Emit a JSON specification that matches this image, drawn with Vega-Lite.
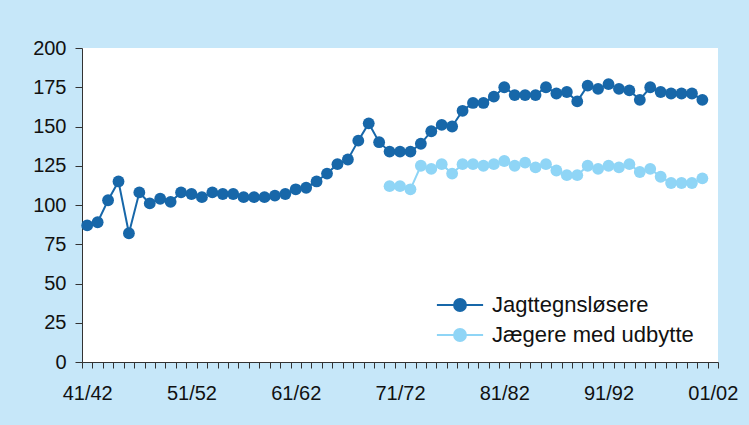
{
  "$schema": "https://vega.github.io/schema/vega-lite/v6.json",
  "width": 636,
  "height": 314,
  "autosize": {"type": "none"},
  "padding": {"left": 82, "top": 48, "right": 31, "bottom": 63},
  "background": "#c6e7f9",
  "config": {
    "view": {"fill": "white", "stroke": null},
    "font": "Liberation Sans",
    "axis": {"labelFont": "Liberation Sans", "labelFontSize": 20, "labelColor": "#111", "domainColor": "#333", "tickColor": "#333", "domainWidth": 1, "tickWidth": 1, "grid": false, "title": null}
  },
  "data": {
    "values": [
      {"season": "41/42", "Jagttegnsløsere": 87},
      {"season": "42/43", "Jagttegnsløsere": 89},
      {"season": "43/44", "Jagttegnsløsere": 103},
      {"season": "44/45", "Jagttegnsløsere": 115},
      {"season": "45/46", "Jagttegnsløsere": 82},
      {"season": "46/47", "Jagttegnsløsere": 108},
      {"season": "47/48", "Jagttegnsløsere": 101},
      {"season": "48/49", "Jagttegnsløsere": 104},
      {"season": "49/50", "Jagttegnsløsere": 102},
      {"season": "50/51", "Jagttegnsløsere": 108},
      {"season": "51/52", "Jagttegnsløsere": 107},
      {"season": "52/53", "Jagttegnsløsere": 105},
      {"season": "53/54", "Jagttegnsløsere": 108},
      {"season": "54/55", "Jagttegnsløsere": 107},
      {"season": "55/56", "Jagttegnsløsere": 107},
      {"season": "56/57", "Jagttegnsløsere": 105},
      {"season": "57/58", "Jagttegnsløsere": 105},
      {"season": "58/59", "Jagttegnsløsere": 105},
      {"season": "59/60", "Jagttegnsløsere": 106},
      {"season": "60/61", "Jagttegnsløsere": 107},
      {"season": "61/62", "Jagttegnsløsere": 110},
      {"season": "62/63", "Jagttegnsløsere": 111},
      {"season": "63/64", "Jagttegnsløsere": 115},
      {"season": "64/65", "Jagttegnsløsere": 120},
      {"season": "65/66", "Jagttegnsløsere": 126},
      {"season": "66/67", "Jagttegnsløsere": 129},
      {"season": "67/68", "Jagttegnsløsere": 141},
      {"season": "68/69", "Jagttegnsløsere": 152},
      {"season": "69/70", "Jagttegnsløsere": 140},
      {"season": "70/71", "Jagttegnsløsere": 134, "Jægere med udbytte": 112},
      {"season": "71/72", "Jagttegnsløsere": 134, "Jægere med udbytte": 112},
      {"season": "72/73", "Jagttegnsløsere": 134, "Jægere med udbytte": 110},
      {"season": "73/74", "Jagttegnsløsere": 139, "Jægere med udbytte": 125},
      {"season": "74/75", "Jagttegnsløsere": 147, "Jægere med udbytte": 123},
      {"season": "75/76", "Jagttegnsløsere": 151, "Jægere med udbytte": 126},
      {"season": "76/77", "Jagttegnsløsere": 150, "Jægere med udbytte": 120},
      {"season": "77/78", "Jagttegnsløsere": 160, "Jægere med udbytte": 126},
      {"season": "78/79", "Jagttegnsløsere": 165, "Jægere med udbytte": 126},
      {"season": "79/80", "Jagttegnsløsere": 165, "Jægere med udbytte": 125},
      {"season": "80/81", "Jagttegnsløsere": 169, "Jægere med udbytte": 126},
      {"season": "81/82", "Jagttegnsløsere": 175, "Jægere med udbytte": 128},
      {"season": "82/83", "Jagttegnsløsere": 170, "Jægere med udbytte": 125},
      {"season": "83/84", "Jagttegnsløsere": 170, "Jægere med udbytte": 127},
      {"season": "84/85", "Jagttegnsløsere": 170, "Jægere med udbytte": 124},
      {"season": "85/86", "Jagttegnsløsere": 175, "Jægere med udbytte": 126},
      {"season": "86/87", "Jagttegnsløsere": 171, "Jægere med udbytte": 122},
      {"season": "87/88", "Jagttegnsløsere": 172, "Jægere med udbytte": 119},
      {"season": "88/89", "Jagttegnsløsere": 166, "Jægere med udbytte": 119},
      {"season": "89/90", "Jagttegnsløsere": 176, "Jægere med udbytte": 125},
      {"season": "90/91", "Jagttegnsløsere": 174, "Jægere med udbytte": 123},
      {"season": "91/92", "Jagttegnsløsere": 177, "Jægere med udbytte": 125},
      {"season": "92/93", "Jagttegnsløsere": 174, "Jægere med udbytte": 124},
      {"season": "93/94", "Jagttegnsløsere": 173, "Jægere med udbytte": 126},
      {"season": "94/95", "Jagttegnsløsere": 167, "Jægere med udbytte": 121},
      {"season": "95/96", "Jagttegnsløsere": 175, "Jægere med udbytte": 123},
      {"season": "96/97", "Jagttegnsløsere": 172, "Jægere med udbytte": 118},
      {"season": "97/98", "Jagttegnsløsere": 171, "Jægere med udbytte": 114},
      {"season": "98/99", "Jagttegnsløsere": 171, "Jægere med udbytte": 114},
      {"season": "99/00", "Jagttegnsløsere": 171, "Jægere med udbytte": 114},
      {"season": "00/01", "Jagttegnsløsere": 167, "Jægere med udbytte": 117}
    ]
  },
  "transform": [
    {"fold": ["Jagttegnsløsere", "Jægere med udbytte"], "as": ["series", "value"]},
    {"filter": "isValid(datum.value)"}
  ],
  "encoding": {
    "x": {
      "field": "season", "type": "ordinal", "sort": null,
      "scale": {"type": "band", "paddingInner": 0, "paddingOuter": 0,
        "domain": ["41/42","42/43","43/44","44/45","45/46","46/47","47/48","48/49","49/50","50/51","51/52","52/53","53/54","54/55","55/56","56/57","57/58","58/59","59/60","60/61","61/62","62/63","63/64","64/65","65/66","66/67","67/68","68/69","69/70","70/71","71/72","72/73","73/74","74/75","75/76","76/77","77/78","78/79","79/80","80/81","81/82","82/83","83/84","84/85","85/86","86/87","87/88","88/89","89/90","90/91","91/92","92/93","93/94","94/95","95/96","96/97","97/98","98/99","99/00","00/01","01/02"]},
      "axis": {"tickBand": "extent", "tickSize": 6, "labelAngle": 0, "labelPadding": 15, "labelOverlap": false,
        "labelExpr": "indexof(['41/42','51/52','61/62','71/72','81/82','91/92','01/02'], datum.value) >= 0 ? datum.value : ''"}
    },
    "y": {
      "field": "value", "type": "quantitative",
      "scale": {"domain": [0, 200], "nice": false},
      "axis": {"values": [0, 25, 50, 75, 100, 125, 150, 175, 200], "tickSize": 7, "labelPadding": 9}
    },
    "color": {
      "field": "series", "type": "nominal",
      "scale": {"domain": ["Jagttegnsløsere", "Jægere med udbytte"], "range": ["#1767a9", "#8fd5f6"]},
      "legend": {
        "title": null, "orient": "none", "legendX": 367, "legendY": 246, "padding": 0,
        "labelFont": "Liberation Sans", "labelFontSize": 22, "labelColor": "#111", "labelLimit": 400,
        "symbolType": "M-3.3,0L3.3,0M-0.85,0A0.85,0.85 0 1,1 0.85,0A0.85,0.85 0 1,1 -0.85,0Z",
        "symbolSize": 196, "symbolStrokeWidth": 2, "labelOffset": 21, "rowPadding": 8,
        "encode": {"symbols": {"update": {"fill": {"scale": "color", "field": "value"}, "stroke": {"scale": "color", "field": "value"}, "opacity": {"value": 1}}}}
      }
    }
  },
  "layer": [
    {"mark": {"type": "line", "strokeWidth": 2}, "encoding": {"detail": {"field": "series"}}},
    {"mark": {"type": "point", "filled": true, "size": 140, "opacity": 1}}
  ]
}
